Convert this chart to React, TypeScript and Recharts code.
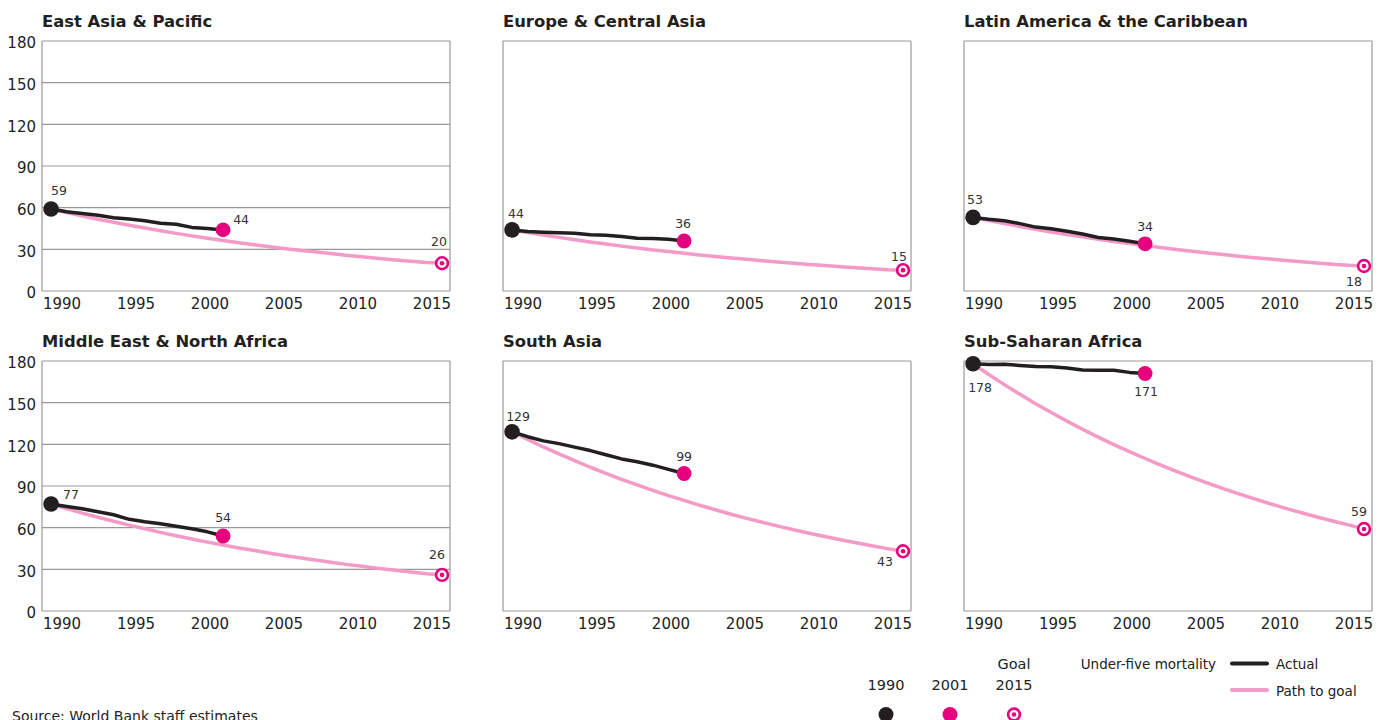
import React from 'react';
import { ComposedChart, Line, Scatter, XAxis, YAxis, CartesianGrid } from 'recharts';

// Under-five mortality per 1,000, yearly points
const YEARS = [
  1990, 1991, 1992, 1993, 1994, 1995, 1996, 1997, 1998, 1999, 2000, 2001, 2002,
  2003, 2004, 2005, 2006, 2007, 2008, 2009, 2010, 2011, 2012, 2013, 2014, 2015,
];
const X_TICKS = [1990, 1995, 2000, 2005, 2010, 2015];
const Y_TICKS = [0, 30, 60, 90, 120, 150, 180];

const REGIONS = [
  'East Asia & Pacific',
  'Europe & Central Asia',
  'Latin America & the Caribbean',
  'Middle East & North Africa',
  'South Asia',
  'Sub-Saharan Africa',
];

// actual: 1990-2001, path: 1990-2015 (last value = 2015 goal)
const EAP_ACTUAL = [59, 57, 55.8, 54.6, 52.8, 51.8, 50.6, 48.8, 48, 45.8, 45, 44];
const EAP_PATH = [
  59, 56.5, 54, 51.7, 49.5, 47.4, 45.3, 43.4, 41.5, 39.7, 38, 36.4, 34.8, 33.3,
  31.9, 30.5, 29.2, 28, 26.8, 25.6, 24.5, 23.4, 22.4, 21.5, 20.6, 20,
];

const ECA_ACTUAL = [44, 42.8, 42.3, 42, 41.5, 40.5, 40.2, 39.3, 38, 37.8, 37.2, 36];
const ECA_PATH = [
  44, 42.1, 40.3, 38.6, 36.9, 35.3, 33.8, 32.3, 31, 29.6, 28.4, 27.1, 26, 24.9,
  23.8, 22.8, 21.8, 20.8, 19.9, 19.1, 18.3, 17.5, 16.7, 16, 15.3, 15,
];

const LAC_ACTUAL = [53, 51.6, 50.6, 48.5, 46, 44.8, 43, 41, 38.5, 37.4, 35.8, 34];
const LAC_PATH = [
  53, 50.7, 48.5, 46.5, 44.5, 42.5, 40.7, 39, 37.3, 35.7, 34.2, 32.7, 31.3, 29.9,
  28.6, 27.4, 26.2, 25.1, 24, 23, 22, 21.1, 20.2, 19.3, 18.5, 18,
];

const MENA_ACTUAL = [77, 75.2, 73.6, 71.5, 69.3, 66, 64.2, 62.8, 61, 59.2, 57, 54];
const MENA_PATH = [
  77, 73.7, 70.5, 67.5, 64.6, 61.8, 59.2, 56.6, 54.2, 51.8, 49.6, 47.5, 45.4, 43.5,
  41.6, 39.8, 38.1, 36.5, 34.9, 33.4, 32, 30.6, 29.3, 28, 26.8, 26,
];

const SAS_ACTUAL = [129, 125.5, 122.5, 120.5, 118, 115.5, 112.5, 109.5, 107.5, 105, 102, 99];
const SAS_PATH = [
  129, 123.5, 118.1, 113.1, 108.2, 103.5, 99.1, 94.8, 90.8, 86.9, 83.1, 79.6, 76.1,
  72.9, 69.7, 66.7, 63.9, 61.1, 58.5, 56, 53.6, 51.3, 49.1, 47, 44.9, 43,
];

const SSA_ACTUAL = [178, 177.5, 177.6, 176.8, 176, 175.8, 175, 173.6, 173.3, 173.4, 171.8, 171];
const SSA_PATH = [
  178, 170.3, 163, 156, 149.3, 142.9, 136.7, 130.9, 125.2, 119.8, 114.7, 109.8, 105.1,
  100.5, 96.2, 92.1, 88.1, 84.3, 80.7, 77.2, 73.9, 70.7, 67.7, 64.8, 62, 59,
];

const FONT = '"DejaVu Sans", sans-serif';
const INK = '#231f20';
const MAGENTA = '#e6007e';
const PINK = '#f39ac6';
const GRID = '#999999';

// value label placement around each marker (dx, dy to text centre)
const PANELS = [
  { title: REGIONS[0], actual: EAP_ACTUAL, path: EAP_PATH, col: 0, row: 0,
    offsets: { start: [8, -18.5], now: [18, -10.5], goal: [-3, -21.5] } },
  { title: REGIONS[1], actual: ECA_ACTUAL, path: ECA_PATH, col: 1, row: 0,
    offsets: { start: [4, -16], now: [-1, -17.5], goal: [-4, -14] } },
  { title: REGIONS[2], actual: LAC_ACTUAL, path: LAC_PATH, col: 2, row: 0,
    offsets: { start: [2, -18], now: [0, -17], goal: [-10, 15] } },
  { title: REGIONS[3], actual: MENA_ACTUAL, path: MENA_PATH, col: 0, row: 1,
    offsets: { start: [20, -9.5], now: [0, -19], goal: [-5, -20] } },
  { title: REGIONS[4], actual: SAS_ACTUAL, path: SAS_PATH, col: 1, row: 1,
    offsets: { start: [6, -15], now: [0, -17.5], goal: [-18, 10] } },
  { title: REGIONS[5], actual: SSA_ACTUAL, path: SSA_PATH, col: 2, row: 1,
    offsets: { start: [7, 24], now: [1, 17.5], goal: [-5, -18] } },
];

const COL_X = [0, 461, 922];
const ROW_Y = [29, 349];
const TITLE_BASE = [27, 347];

const XTick = ({ x, y, payload }: any) => (
  <text x={x} y={y} dy="0.71em" textAnchor="middle" fontSize={15} fill="#222" fontFamily={FONT}>
    {payload.value}
  </text>
);

const YTick = ({ x, y, payload }: any) => (
  <text x={x} y={y + 2} dy="0.36em" textAnchor="end" fontSize={15} fill="#222" fontFamily={FONT}>
    {payload.value}
  </text>
);

const Marker = ({ cx, cy, payload, offsets }: any) => {
  const [dx, dy] = offsets[payload.kind];
  let mark;
  if (payload.kind === 'start') {
    mark = <circle cx={cx} cy={cy} r={7.8} fill={INK} />;
  } else if (payload.kind === 'now') {
    mark = <circle cx={cx} cy={cy} r={7.4} fill={MAGENTA} />;
  } else {
    mark = (
      <g>
        <circle cx={cx} cy={cy} r={5.9} fill="#fff" stroke={MAGENTA} strokeWidth={2.6} />
        <circle cx={cx} cy={cy} r={2.3} fill={MAGENTA} />
      </g>
    );
  }
  return (
    <g>
      {mark}
      <text x={cx + dx} y={cy + dy} dy="0.36em" textAnchor="middle" fontSize={12.5} fill="#333" fontFamily={FONT}>
        {payload.value}
      </text>
    </g>
  );
};

const Panel = ({ panel }: any) => {
  const table = YEARS.map((year, i) => ({
    year,
    path: panel.path[i],
    actual: i < panel.actual.length ? panel.actual[i] : null,
  }));
  const last = panel.actual.length - 1;
  const points = [
    { kind: 'start', year: YEARS[0], value: panel.actual[0] },
    { kind: 'now', year: YEARS[last], value: panel.actual[last] },
    { kind: 'goal', year: YEARS[YEARS.length - 1], value: panel.path[panel.path.length - 1] },
  ];

  return (
    <div style={{ position: 'absolute', left: COL_X[panel.col], top: ROW_Y[panel.row] }}>
      <ComposedChart width={464} height={292} data={table} margin={{ top: 12, right: 14, bottom: 0, left: 0 }}>
        <CartesianGrid
          xAxisId="data"
          stroke={GRID}
          strokeWidth={1.2}
          verticalCoordinatesGenerator={({ offset }: any) => [offset.left, offset.left + offset.width]}
        />
        {/* plotting scale; the year labels below sit on their own axis */}
        <XAxis
          xAxisId="data"
          dataKey="year"
          type="number"
          domain={[1989.42, 2015.51]}
          orientation="top"
          height={0}
          hide
        />
        <XAxis
          xAxisId="lbl"
          dataKey="year"
          type="number"
          domain={[1988.65, 2016.22]}
          allowDataOverflow
          ticks={X_TICKS}
          interval={0}
          tick={<XTick />}
          tickLine={false}
          axisLine={false}
          tickSize={0}
          tickMargin={7}
          height={30}
        />
        <YAxis
          type="number"
          domain={[0, 180]}
          ticks={Y_TICKS}
          interval={0}
          width={42}
          tick={panel.col === 0 ? <YTick /> : false}
          tickLine={false}
          axisLine={false}
          tickSize={0}
          tickMargin={6}
        />
        <Line
          xAxisId="data"
          dataKey="path"
          type="linear"
          stroke={PINK}
          strokeWidth={3.5}
          strokeLinejoin="round"
          dot={false}
          activeDot={false}
          isAnimationActive={false}
        />
        <Line
          xAxisId="data"
          dataKey="actual"
          type="linear"
          stroke={INK}
          strokeWidth={3.5}
          strokeLinejoin="round"
          dot={false}
          activeDot={false}
          isAnimationActive={false}
        />
        <Scatter
          xAxisId="data"
          data={points}
          dataKey="value"
          shape={(p: any) => <Marker {...p} offsets={panel.offsets} />}
          isAnimationActive={false}
        />
      </ComposedChart>
    </div>
  );
};

export default function App() {
  return (
    <div
      style={{
        position: 'absolute',
        left: 0,
        top: 0,
        width: 1382,
        height: 720,
        overflow: 'hidden',
        background: '#fff',
        fontFamily: FONT,
      }}
    >
      <svg width={1382} height={720} style={{ position: 'absolute', left: 0, top: 0 }}>
        {PANELS.map((p) => (
          <text
            key={p.title}
            x={COL_X[p.col] + 42}
            y={TITLE_BASE[p.row]}
            fontSize={16.4}
            fontWeight="bold"
            fill={INK}
            fontFamily={FONT}
          >
            {p.title}
          </text>
        ))}

        {/* marker key */}
        <g fontFamily={FONT} fontSize={14.5} fill="#222" textAnchor="middle">
          <text x={886} y={690}>1990</text>
          <text x={950} y={690}>2001</text>
          <text x={1014} y={669}>Goal</text>
          <text x={1014} y={690}>2015</text>
        </g>
        <circle cx={886} cy={714.5} r={7.5} fill={INK} />
        <circle cx={950} cy={714.5} r={7.5} fill={MAGENTA} />
        <circle cx={1014} cy={714.5} r={5.9} fill="#fff" stroke={MAGENTA} strokeWidth={2.6} />
        <circle cx={1014} cy={714.5} r={2.3} fill={MAGENTA} />

        {/* line key */}
        <g fontFamily={FONT} fontSize={13.5} fill="#222">
          <text x={1216} y={669} textAnchor="end">Under-five mortality</text>
          <text x={1276} y={669}>Actual</text>
          <text x={1276} y={696}>Path to goal</text>
        </g>
        <line x1={1232} x2={1267} y1={663.5} y2={663.5} stroke={INK} strokeWidth={4} strokeLinecap="round" />
        <line x1={1232} x2={1267} y1={690} y2={690} stroke={PINK} strokeWidth={4} strokeLinecap="round" />

        <text x={12} y={721} fontFamily={FONT} fontSize={14} fill="#222">
          Source: World Bank staff estimates
        </text>
      </svg>

      {PANELS.map((p) => (
        <Panel key={p.title} panel={p} />
      ))}
    </div>
  );
}
